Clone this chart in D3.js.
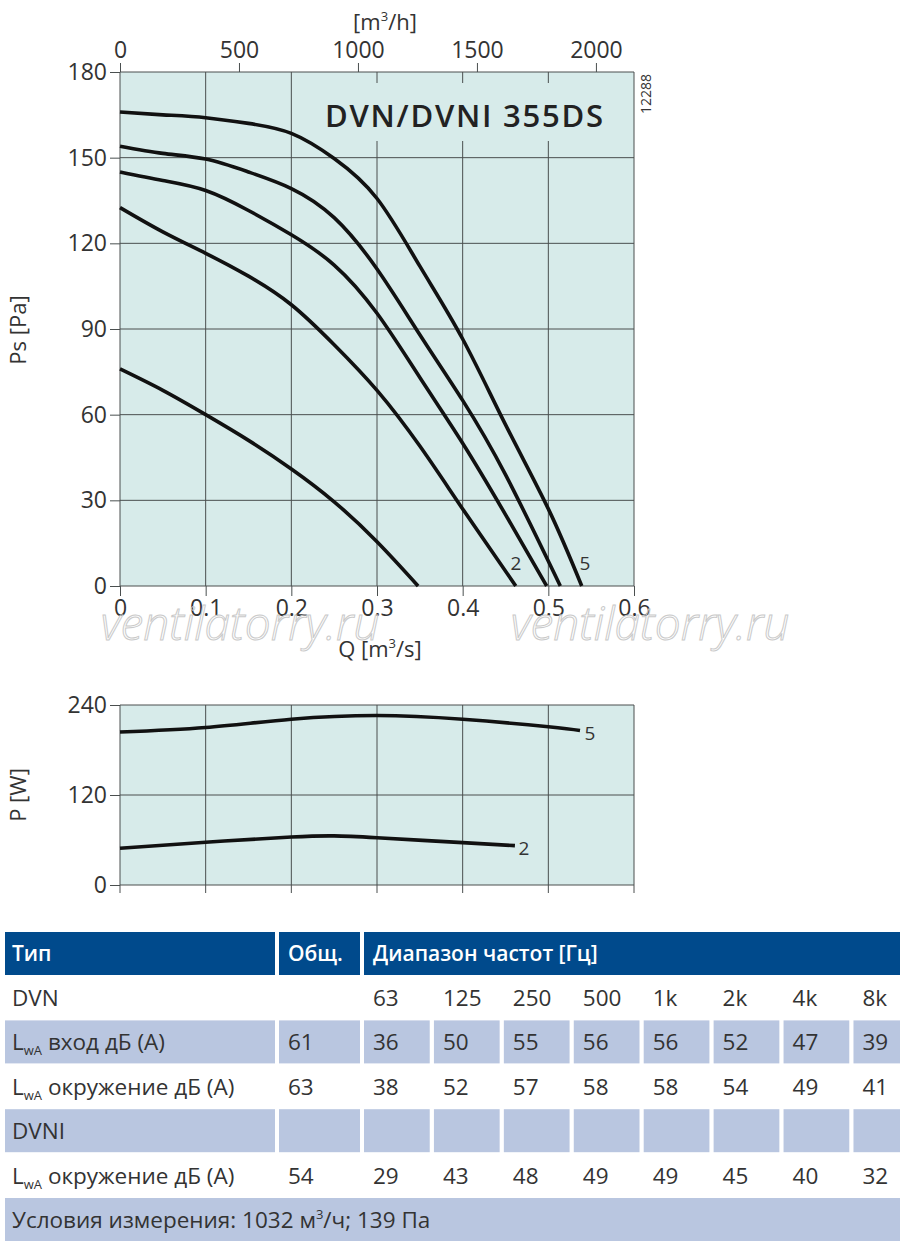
<!DOCTYPE html>
<html>
<head>
<meta charset="utf-8">
<script src="https://cdn.jsdelivr.net/npm/d3@7"></script>
<style>
  body { margin: 0; background: #fff; }
  svg { display: block; font-family: "Open Sans", "Noto Sans", sans-serif; }
</style>
</head>
<body>
<svg width="900" height="1244"></svg>
<script>
// axis ticks
const qTicks = [0, 0.1, 0.2, 0.3, 0.4, 0.5, 0.6];
const qTickLabels = ["0", "0.1", "0.2", "0.3", "0.4", "0.5", "0.6"];
const flowTicks = [0, 500, 1000, 1500, 2000];
const psTicks = [0, 30, 60, 90, 120, 150, 180];
const pTicks = [0, 120, 240];

// static pressure curves [Q m3/s, Ps Pa], lowest to highest
const psCurve1 = [[0, 76], [0.05, 68.5], [0.1, 60], [0.15, 51], [0.2, 41], [0.25, 29.5], [0.3, 15.5], [0.348, 0]];
const psCurve2 = [[0, 132.5], [0.05, 124], [0.1, 116.5], [0.15, 108.5], [0.2, 98.5], [0.25, 84.5], [0.3, 68.5], [0.35, 49], [0.4, 27], [0.462, 0]];
const psCurve3 = [[0, 145], [0.05, 142], [0.1, 138.5], [0.15, 131.5], [0.2, 123], [0.25, 112.4], [0.3, 95.5], [0.35, 73], [0.4, 50], [0.45, 25], [0.498, 0]];
const psCurve4 = [[0, 154], [0.05, 151.5], [0.1, 149.5], [0.15, 145], [0.2, 139.2], [0.25, 129], [0.3, 111], [0.35, 88], [0.4, 65], [0.45, 39], [0.514, 0]];
const psCurve5 = [[0, 166], [0.05, 165], [0.1, 164], [0.15, 162], [0.2, 158.5], [0.25, 149.7], [0.3, 135.7], [0.35, 112], [0.4, 86.5], [0.45, 56.5], [0.5, 27], [0.539, 0]];

// power curves [Q m3/s, P W]
const pCurve2 = [[0, 49], [0.1, 57], [0.2, 64], [0.25, 65.5], [0.3, 63], [0.4, 56.5], [0.461, 52.5]];
const pCurve5 = [[0, 204], [0.1, 210], [0.2, 221], [0.3, 226], [0.4, 221], [0.5, 211], [0.537, 206]];

// sound table
const freqBands = ["63", "125", "250", "500", "1k", "2k", "4k", "8k"];
const dvnInletTotal = "61";
const dvnInlet = [36, 50, 55, 56, 56, 52, 47, 39];
const dvnSurrTotal = "63";
const dvnSurr = [38, 52, 57, 58, 58, 54, 49, 41];
const dvniSurrTotal = "54";
const dvniSurr = [29, 43, 48, 49, 49, 45, 40, 32];

const svg = d3.select("svg");
const bg = "#d7ebea", grid = "#4a4f4f", txt = "#333";

const x = d3.scaleLinear().domain([0, 0.6]).range([120, 634]);
const xFlow = d3.scaleLinear().domain([0, 2160]).range([120, 634]);
const y = d3.scaleLinear().domain([0, 180]).range([586, 72]);
const yP = d3.scaleLinear().domain([0, 240]).range([885, 705]);

// ---------- pressure chart ----------
svg.append("rect").attr("x", x(0)).attr("y", y(180))
  .attr("width", x(0.6) - x(0)).attr("height", y(0) - y(180)).attr("fill", bg);

const g1 = svg.append("g");
g1.selectAll(".vg").data(qTicks).enter().append("line")
  .attr("x1", d => x(d)).attr("x2", d => x(d)).attr("y1", y(180)).attr("y2", y(0))
  .attr("stroke", grid).attr("stroke-width", 1);
g1.selectAll(".hg").data(psTicks).enter().append("line")
  .attr("x1", x(0)).attr("x2", x(0.6)).attr("y1", d => y(d)).attr("y2", d => y(d))
  .attr("stroke", grid).attr("stroke-width", 1);

// title box hides the grid behind it
svg.append("rect").attr("x", 318).attr("y", 83).attr("width", 296).attr("height", 58).attr("fill", bg);
svg.append("text").attr("x", 325).attr("y", 127).attr("font-size", 31).attr("font-weight", 600)
  .attr("fill", "#222").attr("textLength", 278).text("DVN/DVNI 355DS");

const axL = svg.append("g").attr("transform", `translate(${x(0)},0)`)
  .call(d3.axisLeft(y).tickValues(psTicks).tickSize(10).tickPadding(3));
const axB = svg.append("g").attr("transform", `translate(0,${y(0)})`)
  .call(d3.axisBottom(x).tickValues(qTicks).tickFormat((d, i) => qTickLabels[i]).tickSize(10).tickPadding(4));
const axT = svg.append("g").attr("transform", `translate(0,${y(180)})`)
  .call(d3.axisTop(xFlow).tickValues(flowTicks).tickFormat(d3.format("d")).tickSize(9).tickPadding(5));

[axL, axB, axT].forEach(a => {
  a.select(".domain").remove();
  a.selectAll(".tick line").attr("stroke", grid);
  a.selectAll("text").attr("font-size", 23).attr("fill", txt)
    .attr("font-family", "'Open Sans', sans-serif");
});

svg.append("text").attr("x", 385).attr("y", 30).attr("text-anchor", "middle")
  .attr("font-size", 22).attr("fill", txt)
  .html('[m<tspan font-size="13" dy="-9">3</tspan><tspan dy="9">/h]</tspan>');
svg.append("text").attr("x", 380).attr("y", 657).attr("text-anchor", "middle")
  .attr("font-size", 22).attr("fill", txt)
  .html('Q [m<tspan font-size="13" dy="-9">3</tspan><tspan dy="9">/s]</tspan>');
svg.append("text").attr("transform", "translate(26,330) rotate(-90)").attr("text-anchor", "middle")
  .attr("font-size", 22).attr("fill", txt).text("Ps [Pa]");
svg.append("text").attr("transform", "translate(651,94) rotate(-90)").attr("text-anchor", "middle")
  .attr("font-size", 14).attr("fill", txt).text("12288");

const line = d3.line().x(d => x(d[0])).y(d => y(d[1])).curve(d3.curveNatural);
svg.append("g").selectAll("path")
  .data([psCurve1, psCurve2, psCurve3, psCurve4, psCurve5]).enter().append("path")
  .attr("d", line).attr("fill", "none").attr("stroke", "#111").attr("stroke-width", 3.6);

svg.append("text").attr("x", 516).attr("y", 570).attr("text-anchor", "middle")
  .attr("font-size", 19).attr("fill", txt).text("2");
svg.append("text").attr("x", 585).attr("y", 570).attr("text-anchor", "middle")
  .attr("font-size", 19).attr("fill", txt).text("5");

// watermark
["ventilatorry.ru", "ventilatorry.ru"].forEach((w, i) => {
  svg.append("text").attr("x", i ? 650 : 240).attr("y", 640).attr("text-anchor", "middle")
    .attr("font-size", 46).attr("font-style", "italic").attr("font-weight", 300)
    .attr("fill", "none").attr("stroke", "#c9c9c9").attr("stroke-width", 1).text(w);
});

// ---------- power chart ----------
svg.append("rect").attr("x", x(0)).attr("y", yP(240))
  .attr("width", x(0.6) - x(0)).attr("height", yP(0) - yP(240)).attr("fill", bg);
const g2 = svg.append("g");
g2.selectAll(".vg").data(qTicks).enter().append("line")
  .attr("x1", d => x(d)).attr("x2", d => x(d)).attr("y1", yP(240)).attr("y2", yP(0) + 8)
  .attr("stroke", grid).attr("stroke-width", 1);
g2.selectAll(".hg").data(pTicks).enter().append("line")
  .attr("x1", x(0)).attr("x2", x(0.6)).attr("y1", d => yP(d)).attr("y2", d => yP(d))
  .attr("stroke", grid).attr("stroke-width", 1);
const axP = svg.append("g").attr("transform", `translate(${x(0)},0)`)
  .call(d3.axisLeft(yP).tickValues(pTicks).tickSize(10).tickPadding(3));
axP.select(".domain").remove();
axP.selectAll(".tick line").attr("stroke", grid);
axP.selectAll("text").attr("font-size", 23).attr("fill", txt).attr("font-family", "'Open Sans', sans-serif");
svg.append("text").attr("transform", "translate(26,795) rotate(-90)").attr("text-anchor", "middle")
  .attr("font-size", 22).attr("fill", txt).text("P [W]");

const lineP = d3.line().x(d => x(d[0])).y(d => yP(d[1])).curve(d3.curveNatural);
svg.append("g").selectAll("path").data([pCurve2, pCurve5]).enter().append("path")
  .attr("d", lineP).attr("fill", "none").attr("stroke", "#111").attr("stroke-width", 3.6);
svg.append("text").attr("x", 590).attr("y", 740).attr("text-anchor", "middle")
  .attr("font-size", 19).attr("fill", txt).text("5");
svg.append("text").attr("x", 524).attr("y", 855).attr("text-anchor", "middle")
  .attr("font-size", 19).attr("fill", txt).text("2");

// ---------- sound table ----------
const shade = "#b9c6e0", head = "#004a8c";
const colX = d3.scaleBand().domain(freqBands).range([364, 364 + 69.4 * 8]).paddingInner(0.06).paddingOuter(0).align(0);
const cols = [{ x: 5, w: 270 }, { x: 279, w: 81 }].concat(freqBands.map(f => ({ x: colX(f), w: Math.min(colX.bandwidth(), 900 - colX(f)) })));
const rowTop = i => 976 + i * 44.4, rowH = 43;

const tbl = svg.append("g");
// header
tbl.append("rect").attr("x", 5).attr("y", 932).attr("width", 270).attr("height", 43).attr("fill", head);
tbl.append("rect").attr("x", 279).attr("y", 932).attr("width", 81).attr("height", 43).attr("fill", head);
tbl.append("rect").attr("x", 364).attr("y", 932).attr("width", 536).attr("height", 43).attr("fill", head);
[["Тип", 12], ["Общ.", 288], ["Диапазон частот [Гц]", 373]].forEach(([t, tx]) => {
  tbl.append("text").attr("x", tx).attr("y", 961).attr("font-size", 21).attr("font-weight", 600)
    .attr("fill", "#fff").text(t);
});

const lwa = (sel, rest) => sel.html(`L<tspan font-size="13" dy="5">wA</tspan><tspan dy="-5"> ${rest}</tspan>`);

const rows = [
  { label: "DVN", total: "", vals: freqBands, shaded: false },
  { label: "вход дБ (A)", lw: true, total: dvnInletTotal, vals: dvnInlet, shaded: true },
  { label: "окружение дБ (A)", lw: true, total: dvnSurrTotal, vals: dvnSurr, shaded: false },
  { label: "DVNI", total: "", vals: freqBands.map(() => ""), shaded: true },
  { label: "окружение дБ (A)", lw: true, total: dvniSurrTotal, vals: dvniSurr, shaded: false }
];

rows.forEach((r, i) => {
  const ty = rowTop(i) + 30;
  if (r.shaded) {
    cols.forEach(c => tbl.append("rect").attr("x", c.x).attr("y", rowTop(i)).attr("width", c.w).attr("height", rowH).attr("fill", shade));
  }
  const lt = tbl.append("text").attr("x", 12).attr("y", ty).attr("font-size", 22.5).attr("fill", txt);
  if (r.lw) lwa(lt, r.label); else lt.text(r.label);
  tbl.append("text").attr("x", 288).attr("y", ty).attr("font-size", 22.5).attr("fill", txt).text(r.total);
  r.vals.forEach((v, j) => {
    tbl.append("text").attr("x", cols[j + 2].x + 9).attr("y", ty).attr("font-size", 22.5).attr("fill", txt).text(v);
  });
});

// footer
tbl.append("rect").attr("x", 5).attr("y", rowTop(5)).attr("width", 895).attr("height", rowH).attr("fill", shade);
tbl.append("text").attr("x", 12).attr("y", rowTop(5) + 30).attr("font-size", 22.5).attr("fill", txt)
  .html('Условия измерения: 1032 м<tspan font-size="13" dy="-9">3</tspan><tspan dy="9">/ч; 139 Па</tspan>');
</script>
</body>
</html>
